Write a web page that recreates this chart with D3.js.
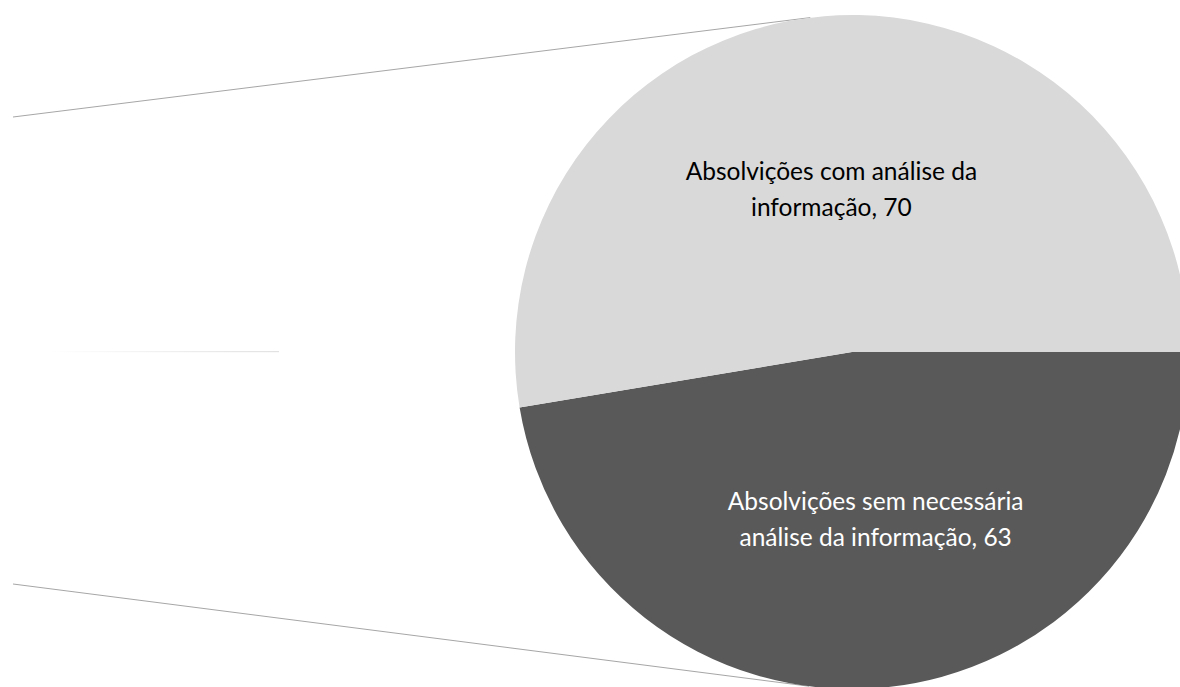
<!DOCTYPE html>
<html>
<head>
<meta charset="utf-8">
<script src="https://cdn.jsdelivr.net/npm/d3@7"></script>
<style>
  html, body { margin: 0; padding: 0; background: #ffffff; }
  svg { display: block; }
</style>
</head>
<body>
<svg id="chart" width="1180" height="687"></svg>
<script>
// ---- data ----
const categories = ["Absolvições sem necessária análise da informação", "Absolvições com análise da informação"];
const values = [63, 70];
const labelLines = [
  ["Absolvições sem necessária", "análise da informação, 63"],
  ["Absolvições com análise da", "informação, 70"]
];
const colors = ["#595959", "#d9d9d9"];
const textColors = ["#ffffff", "#000000"];

// ---- layout ----
const W = 1180, H = 687;
const cx = 852, cy = 352, R = 337;
const svg = d3.select("#chart");

const pie = d3.pie().sort(null)
  .startAngle(Math.PI / 2)
  .endAngle(Math.PI / 2 + 2 * Math.PI);
const arcs = pie(values);
const arc = d3.arc().innerRadius(0).outerRadius(R);
const labelArc = d3.arc().innerRadius(R * 0.98).outerRadius(R * 0.98);

// faint line (secondary chart remnant)
const defs = svg.append("defs");
const grad = defs.append("linearGradient").attr("id", "fade")
  .attr("x1", "0%").attr("x2", "100%");
grad.append("stop").attr("offset", "0%").attr("stop-color", "#ffffff");
grad.append("stop").attr("offset", "100%").attr("stop-color", "#e2e2e2");
svg.append("rect").attr("x", 48).attr("y", 351).attr("width", 231).attr("height", 1.2)
  .attr("fill", "url(#fade)");

// connector lines, tangent to the pie
function tangentPoint(px, py, side) {
  const dx = cx - px, dy = cy - py;
  const d = Math.hypot(dx, dy);
  const base = Math.atan2(dy, dx);
  const off = Math.asin(R / d);
  const ang = base + side * off;
  const len = Math.sqrt(d * d - R * R);
  return [px + len * Math.cos(ang), py + len * Math.sin(ang)];
}
const starts = [[13, 117, -1], [13, 584, 1]];
starts.forEach(([x, y, s]) => {
  const t = tangentPoint(x, y, s);
  svg.append("line")
    .attr("x1", x).attr("y1", y).attr("x2", t[0]).attr("y2", t[1])
    .attr("stroke", "#a6a6a6").attr("stroke-width", 1);
});

const g = svg.append("g").attr("transform", `translate(${cx},${cy})`);
g.selectAll("path.slice").data(arcs).enter().append("path")
  .attr("class", "slice")
  .attr("d", arc)
  .attr("fill", (d, i) => colors[i]);

const labelOffsets = [[10, 3], [-7, 2]];
const fontSize = 24.5;
const lineH = 36;
g.selectAll("text.lbl").data(arcs).enter().append("text")
  .attr("class", "lbl")
  .attr("text-anchor", "middle")
  .attr("font-family", "Lato, 'Open Sans', sans-serif")
  .attr("font-size", fontSize)
  .attr("fill", (d, i) => textColors[i])
  .each(function (d, i) {
    const c = labelArc.centroid(d).map(v => v * 0.5);
    const t = d3.select(this);
    const n = labelLines[i].length;
    labelLines[i].forEach((ln, k) => {
      t.append("tspan")
        .attr("x", c[0] + labelOffsets[i][0])
        .attr("y", c[1] + labelOffsets[i][1] + (k - (n - 1) / 2) * lineH + fontSize * 0.35)
        .text(ln);
    });
  });
</script>
</body>
</html>
